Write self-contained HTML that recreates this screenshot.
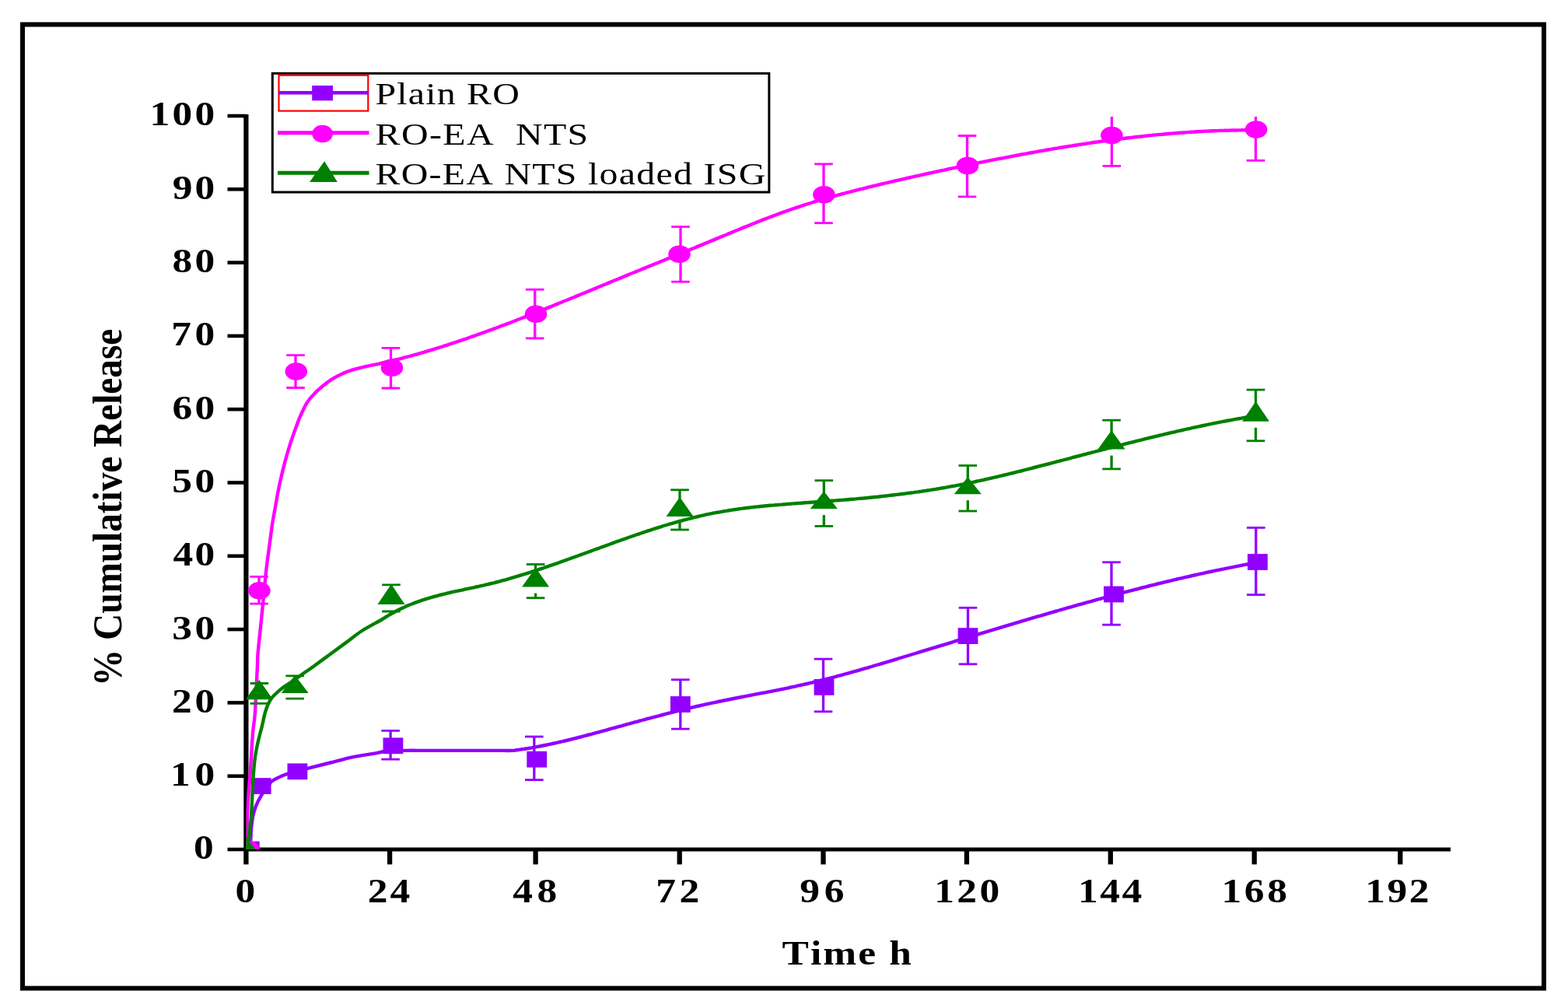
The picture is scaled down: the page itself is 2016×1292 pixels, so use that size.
<!DOCTYPE html><html><head><meta charset="utf-8"><title>Cumulative Release</title><style>html,body{margin:0;padding:0;background:#fff;overflow:hidden;}svg{display:block;}text{font-family:"Liberation Serif","Times New Roman",serif;}</style></head><body>
<svg width="2016" height="1292" viewBox="0 0 2016 1292">
<rect x="0" y="0" width="2016" height="1292" fill="#fff"/>
<rect x="29" y="31.5" width="1956" height="1239" fill="none" stroke="#000" stroke-width="6"/>
<defs><clipPath id="pa"><rect x="316.5" y="149.8" width="1560" height="942.2"/></clipPath></defs>
<g stroke="#000" fill="none" stroke-linecap="butt">
<line x1="316.4" y1="147" x2="316.4" y2="1094.5" stroke-width="6.2"/>
<line x1="313.3" y1="1092" x2="1865" y2="1092" stroke-width="4.8"/>
<line x1="292.5" y1="1092.0" x2="316" y2="1092.0" stroke-width="4.6"/>
<line x1="292.5" y1="997.7" x2="316" y2="997.7" stroke-width="4.6"/>
<line x1="292.5" y1="903.4" x2="316" y2="903.4" stroke-width="4.6"/>
<line x1="292.5" y1="809.1" x2="316" y2="809.1" stroke-width="4.6"/>
<line x1="292.5" y1="714.8" x2="316" y2="714.8" stroke-width="4.6"/>
<line x1="292.5" y1="620.5" x2="316" y2="620.5" stroke-width="4.6"/>
<line x1="292.5" y1="526.2" x2="316" y2="526.2" stroke-width="4.6"/>
<line x1="292.5" y1="431.9" x2="316" y2="431.9" stroke-width="4.6"/>
<line x1="292.5" y1="337.6" x2="316" y2="337.6" stroke-width="4.6"/>
<line x1="292.5" y1="243.3" x2="316" y2="243.3" stroke-width="4.6"/>
<line x1="292.5" y1="149.0" x2="316" y2="149.0" stroke-width="4.6"/>
<line x1="316.4" y1="1092" x2="316.4" y2="1111.3" stroke-width="6.3"/>
<line x1="501.1" y1="1092" x2="501.1" y2="1111.3" stroke-width="6.3"/>
<line x1="688.6" y1="1092" x2="688.6" y2="1111.3" stroke-width="6.3"/>
<line x1="873.7" y1="1092" x2="873.7" y2="1111.3" stroke-width="6.3"/>
<line x1="1058.5" y1="1092" x2="1058.5" y2="1111.3" stroke-width="6.3"/>
<line x1="1242.9" y1="1092" x2="1242.9" y2="1111.3" stroke-width="6.3"/>
<line x1="1427.8" y1="1092" x2="1427.8" y2="1111.3" stroke-width="6.3"/>
<line x1="1612.7" y1="1092" x2="1612.7" y2="1111.3" stroke-width="6.3"/>
<line x1="1800.3" y1="1092" x2="1800.3" y2="1111.3" stroke-width="6.3"/>
</g>
<g font-weight="bold" fill="#000">
<text transform="scale(1.1800,1)" x="211.05" y="1104.5" font-size="43.6" xml:space="preserve">0</text>
<text transform="scale(1.1800,1)" x="185.66 212.32" y="1010.2" font-size="43.6" xml:space="preserve">10</text>
<text transform="scale(1.1800,1)" x="187.32 212.32" y="915.9" font-size="43.6" xml:space="preserve">20</text>
<text transform="scale(1.1800,1)" x="187.51 212.32" y="821.6" font-size="43.6" xml:space="preserve">30</text>
<text transform="scale(1.1800,1)" x="188.56 212.32" y="727.3" font-size="43.6" xml:space="preserve">40</text>
<text transform="scale(1.1800,1)" x="187.41 212.32" y="633.0" font-size="43.6" xml:space="preserve">50</text>
<text transform="scale(1.1800,1)" x="187.66 212.32" y="538.7" font-size="43.6" xml:space="preserve">60</text>
<text transform="scale(1.1800,1)" x="186.66 212.32" y="444.4" font-size="43.6" xml:space="preserve">70</text>
<text transform="scale(1.1800,1)" x="187.70 212.32" y="350.1" font-size="43.6" xml:space="preserve">80</text>
<text transform="scale(1.1800,1)" x="187.96 212.32" y="255.8" font-size="43.6" xml:space="preserve">90</text>
<text transform="scale(1.1800,1)" x="163.20 187.76 212.32" y="161.5" font-size="43.6" xml:space="preserve">100</text>
<text transform="scale(1.1800,1)" x="256.30" y="1160.3" font-size="43.6" xml:space="preserve">0</text>
<text transform="scale(1.1800,1)" x="400.71 425.03" y="1160.3" font-size="43.6" xml:space="preserve">24</text>
<text transform="scale(1.1800,1)" x="558.73 585.07" y="1160.3" font-size="43.6" xml:space="preserve">48</text>
<text transform="scale(1.1800,1)" x="714.71 740.24" y="1160.3" font-size="43.6" xml:space="preserve">72</text>
<text transform="scale(1.1800,1)" x="871.35 898.04" y="1160.3" font-size="43.6" xml:space="preserve">96</text>
<text transform="scale(1.1800,1)" x="1018.03 1042.68 1067.32" y="1160.3" font-size="43.6" xml:space="preserve">120</text>
<text transform="scale(1.1800,1)" x="1174.64 1198.56 1222.48" y="1160.3" font-size="43.6" xml:space="preserve">144</text>
<text transform="scale(1.1800,1)" x="1331.00 1355.83 1380.66" y="1160.3" font-size="43.6" xml:space="preserve">168</text>
<text transform="scale(1.1800,1)" x="1487.61 1511.47 1535.33" y="1160.3" font-size="43.6" xml:space="preserve">192</text>
<text transform="scale(1.1800,1)" x="852.20 883.04 896.92 935.01 956.12 968.78" y="1240.1" font-size="43.6" xml:space="preserve">Time h</text>
<text transform="translate(155.5,652.4) rotate(-90) scale(1,1.2)" x="0" y="0" font-size="43.6" text-anchor="middle" textLength="459.3" lengthAdjust="spacingAndGlyphs">% Cumulative Release</text>
</g>
<g clip-path="url(#pa)">
<path d="M316.5,1092.0 C317.4,1090.4 320.7,1086.8 321.8,1082.4 C322.9,1078.0 322.4,1071.1 323.0,1065.4 C323.6,1059.7 324.4,1053.2 325.4,1048.3 C326.4,1043.4 327.5,1040.2 329.1,1036.1 C330.7,1032.0 333.1,1027.5 335.2,1023.9 C337.3,1020.3 339.1,1017.7 341.5,1014.5 C343.9,1011.3 346.7,1007.0 349.4,1004.5 C352.1,1002.0 354.7,1001.2 357.5,999.8 C360.3,998.4 362.1,997.4 366.4,996.0 C370.6,994.6 377.4,993.1 383.0,991.5 C388.6,989.9 393.3,988.4 400.3,986.6 C407.3,984.8 416.0,982.7 424.8,980.5 C433.6,978.3 443.7,975.4 453.1,973.4 C462.5,971.4 474.4,969.8 481.4,968.6 C488.4,967.4 488.4,966.6 495.0,966.0 C501.6,965.4 512.7,965.1 521.0,964.9 C529.3,964.7 536.8,964.9 545.0,964.9 C553.2,964.9 561.7,964.9 570.0,964.9 C578.3,964.9 586.7,964.9 595.0,964.9 C603.3,964.9 612.5,964.9 620.0,964.9 C627.5,964.9 633.6,964.9 640.0,964.9 C646.4,964.9 654.7,965.0 658.6,964.9 C662.5,964.8 661.9,964.5 663.6,964.3 C665.3,964.1 666.9,963.8 668.6,963.6 C670.3,963.4 671.9,963.1 673.6,962.9 C675.3,962.6 676.9,962.4 678.6,962.1 C680.3,961.8 681.9,961.6 683.6,961.3 C685.3,961.0 686.9,960.7 688.6,960.4 C690.3,960.1 691.9,959.8 693.6,959.5 C695.3,959.1 696.9,958.8 698.6,958.5 C700.3,958.2 701.9,957.8 703.6,957.5 C705.3,957.1 706.9,956.8 708.6,956.4 C710.3,956.1 711.9,955.7 713.6,955.3 C715.3,955.0 716.9,954.6 718.6,954.2 C720.3,953.8 721.9,953.4 723.6,953.1 C725.3,952.7 726.9,952.3 728.6,951.9 C730.3,951.5 731.9,951.1 733.6,950.6 C735.3,950.2 736.9,949.8 738.6,949.4 C740.3,949.0 741.9,948.6 743.6,948.1 C745.3,947.7 746.9,947.3 748.6,946.8 C750.3,946.4 751.9,946.0 753.6,945.5 C755.3,945.1 756.9,944.7 758.6,944.2 C760.3,943.8 761.9,943.3 763.6,942.9 C765.3,942.4 766.9,942.0 768.6,941.5 C770.3,941.1 771.9,940.6 773.6,940.2 C775.3,939.7 776.9,939.2 778.6,938.8 C780.3,938.3 781.9,937.9 783.6,937.4 C785.3,936.9 786.9,936.5 788.6,936.0 C790.3,935.6 791.9,935.1 793.6,934.6 C795.3,934.2 796.9,933.7 798.6,933.3 C800.3,932.8 801.9,932.3 803.6,931.9 C805.3,931.4 806.9,931.0 808.6,930.5 C810.3,930.0 811.9,929.6 813.6,929.1 C815.3,928.7 816.9,928.2 818.6,927.8 C820.3,927.3 821.9,926.9 823.6,926.4 C825.3,926.0 826.9,925.5 828.6,925.1 C830.3,924.6 831.9,924.2 833.6,923.7 C835.3,923.3 836.9,922.8 838.6,922.4 C840.3,921.9 841.9,921.5 843.6,921.1 C845.3,920.6 846.9,920.2 848.6,919.8 C850.3,919.3 851.9,918.9 853.6,918.5 C855.3,918.0 856.9,917.6 858.6,917.2 C860.3,916.7 861.9,916.3 863.6,915.9 C865.3,915.5 866.9,915.1 868.6,914.6 C870.3,914.2 871.9,913.8 873.6,913.4 C875.3,913.0 876.9,912.6 878.6,912.2 C880.3,911.8 881.9,911.4 883.6,911.0 C885.3,910.6 886.9,910.2 888.6,909.8 C890.3,909.4 891.9,909.0 893.6,908.6 C895.3,908.2 896.9,907.8 898.6,907.5 C900.3,907.1 901.9,906.7 903.6,906.3 C905.3,906.0 906.9,905.6 908.6,905.2 C910.3,904.9 911.9,904.5 913.6,904.1 C915.3,903.8 916.9,903.4 918.6,903.1 C920.3,902.7 921.9,902.4 923.6,902.0 C925.3,901.7 926.9,901.3 928.6,901.0 C930.3,900.6 931.9,900.3 933.6,900.0 C935.3,899.6 936.9,899.3 938.6,899.0 C940.3,898.6 941.9,898.3 943.6,898.0 C945.3,897.7 946.9,897.3 948.6,897.0 C950.3,896.7 951.9,896.4 953.6,896.0 C955.3,895.7 956.9,895.4 958.6,895.1 C960.3,894.8 961.9,894.4 963.6,894.1 C965.3,893.8 966.9,893.5 968.6,893.2 C970.3,892.8 971.9,892.5 973.6,892.2 C975.3,891.9 976.9,891.6 978.6,891.2 C980.3,890.9 981.9,890.6 983.6,890.3 C985.3,889.9 986.9,889.6 988.6,889.3 C990.3,889.0 991.9,888.6 993.6,888.3 C995.3,888.0 996.9,887.7 998.6,887.3 C1000.3,887.0 1001.9,886.7 1003.6,886.3 C1005.3,886.0 1006.9,885.6 1008.6,885.3 C1010.3,885.0 1011.9,884.6 1013.6,884.3 C1015.3,883.9 1016.9,883.6 1018.6,883.2 C1020.3,882.9 1021.9,882.5 1023.6,882.1 C1025.3,881.8 1026.9,881.4 1028.6,881.0 C1030.3,880.7 1031.9,880.3 1033.6,879.9 C1035.3,879.6 1036.9,879.2 1038.6,878.8 C1040.3,878.4 1041.9,878.0 1043.6,877.6 C1045.3,877.2 1046.9,876.8 1048.6,876.4 C1050.3,876.0 1051.9,875.6 1053.6,875.2 C1055.3,874.8 1056.9,874.4 1058.6,873.9 C1060.3,873.5 1061.9,873.1 1063.6,872.7 C1065.3,872.2 1066.9,871.8 1068.6,871.4 C1070.3,870.9 1071.9,870.5 1073.6,870.1 C1075.3,869.6 1076.9,869.2 1078.6,868.7 C1080.3,868.3 1081.9,867.8 1083.6,867.4 C1085.3,866.9 1086.9,866.5 1088.6,866.0 C1090.3,865.6 1091.9,865.1 1093.6,864.6 C1095.3,864.2 1096.9,863.7 1098.6,863.2 C1100.3,862.8 1101.9,862.3 1103.6,861.8 C1105.3,861.3 1106.9,860.9 1108.6,860.4 C1110.3,859.9 1111.9,859.4 1113.6,858.9 C1115.3,858.5 1116.9,858.0 1118.6,857.5 C1120.3,857.0 1121.9,856.5 1123.6,856.0 C1125.3,855.5 1126.9,855.0 1128.6,854.5 C1130.3,854.0 1131.9,853.6 1133.6,853.1 C1135.3,852.6 1136.9,852.1 1138.6,851.6 C1140.3,851.1 1141.9,850.6 1143.6,850.1 C1145.3,849.6 1146.9,849.1 1148.6,848.6 C1150.3,848.1 1151.9,847.6 1153.6,847.1 C1155.3,846.5 1156.9,846.0 1158.6,845.5 C1160.3,845.0 1161.9,844.5 1163.6,844.0 C1165.3,843.5 1166.9,843.0 1168.6,842.5 C1170.3,842.0 1171.9,841.5 1173.6,841.0 C1175.3,840.5 1176.9,840.0 1178.6,839.5 C1180.3,839.0 1181.9,838.5 1183.6,837.9 C1185.3,837.4 1186.9,836.9 1188.6,836.4 C1190.3,835.9 1191.9,835.4 1193.6,834.9 C1195.3,834.4 1196.9,833.9 1198.6,833.4 C1200.3,832.9 1201.9,832.4 1203.6,831.9 C1205.3,831.3 1206.9,830.8 1208.6,830.3 C1210.3,829.8 1211.9,829.3 1213.6,828.8 C1215.3,828.3 1216.9,827.8 1218.6,827.3 C1220.3,826.8 1221.9,826.3 1223.6,825.8 C1225.3,825.3 1226.9,824.7 1228.6,824.2 C1230.3,823.7 1231.9,823.2 1233.6,822.7 C1235.3,822.2 1236.9,821.7 1238.6,821.2 C1240.3,820.7 1241.9,820.2 1243.6,819.7 C1245.3,819.2 1246.9,818.7 1248.6,818.2 C1250.3,817.6 1251.9,817.1 1253.6,816.6 C1255.3,816.1 1256.9,815.6 1258.6,815.1 C1260.3,814.6 1261.9,814.1 1263.6,813.6 C1265.3,813.1 1266.9,812.6 1268.6,812.1 C1270.3,811.6 1271.9,811.1 1273.6,810.6 C1275.3,810.1 1276.9,809.6 1278.6,809.1 C1280.3,808.6 1281.9,808.1 1283.6,807.6 C1285.3,807.1 1286.9,806.6 1288.6,806.1 C1290.3,805.6 1291.9,805.1 1293.6,804.6 C1295.3,804.1 1296.9,803.6 1298.6,803.1 C1300.3,802.6 1301.9,802.1 1303.6,801.6 C1305.3,801.1 1306.9,800.6 1308.6,800.1 C1310.3,799.6 1311.9,799.1 1313.6,798.6 C1315.3,798.1 1316.9,797.6 1318.6,797.1 C1320.3,796.6 1321.9,796.2 1323.6,795.7 C1325.3,795.2 1326.9,794.7 1328.6,794.2 C1330.3,793.7 1331.9,793.2 1333.6,792.7 C1335.3,792.2 1336.9,791.7 1338.6,791.3 C1340.3,790.8 1341.9,790.3 1343.6,789.8 C1345.3,789.3 1346.9,788.8 1348.6,788.4 C1350.3,787.9 1351.9,787.4 1353.6,786.9 C1355.3,786.4 1356.9,785.9 1358.6,785.5 C1360.3,785.0 1361.9,784.5 1363.6,784.0 C1365.3,783.6 1366.9,783.1 1368.6,782.6 C1370.3,782.1 1371.9,781.6 1373.6,781.2 C1375.3,780.7 1376.9,780.2 1378.6,779.8 C1380.3,779.3 1381.9,778.8 1383.6,778.3 C1385.3,777.9 1386.9,777.4 1388.6,776.9 C1390.3,776.5 1391.9,776.0 1393.6,775.5 C1395.3,775.1 1396.9,774.6 1398.6,774.2 C1400.3,773.7 1401.9,773.2 1403.6,772.8 C1405.3,772.3 1406.9,771.8 1408.6,771.4 C1410.3,770.9 1411.9,770.5 1413.6,770.0 C1415.3,769.6 1416.9,769.1 1418.6,768.7 C1420.3,768.2 1421.9,767.8 1423.6,767.3 C1425.3,766.9 1426.9,766.4 1428.6,766.0 C1430.3,765.5 1431.9,765.1 1433.6,764.6 C1435.3,764.2 1436.9,763.7 1438.6,763.3 C1440.3,762.9 1441.9,762.4 1443.6,762.0 C1445.3,761.5 1446.9,761.1 1448.6,760.7 C1450.3,760.2 1451.9,759.8 1453.6,759.4 C1455.3,758.9 1456.9,758.5 1458.6,758.1 C1460.3,757.6 1461.9,757.2 1463.6,756.8 C1465.3,756.4 1466.9,755.9 1468.6,755.5 C1470.3,755.1 1471.9,754.7 1473.6,754.3 C1475.3,753.8 1476.9,753.4 1478.6,753.0 C1480.3,752.6 1481.9,752.2 1483.6,751.8 C1485.3,751.4 1486.9,750.9 1488.6,750.5 C1490.3,750.1 1491.9,749.7 1493.6,749.3 C1495.3,748.9 1496.9,748.5 1498.6,748.1 C1500.3,747.7 1501.9,747.3 1503.6,746.9 C1505.3,746.5 1506.9,746.1 1508.6,745.7 C1510.3,745.3 1511.9,744.9 1513.6,744.5 C1515.3,744.1 1516.9,743.8 1518.6,743.4 C1520.3,743.0 1521.9,742.6 1523.6,742.2 C1525.3,741.8 1526.9,741.5 1528.6,741.1 C1530.3,740.7 1531.9,740.3 1533.6,739.9 C1535.3,739.6 1536.9,739.2 1538.6,738.8 C1540.3,738.5 1541.9,738.1 1543.6,737.7 C1545.3,737.4 1546.9,737.0 1548.6,736.6 C1550.3,736.3 1551.9,735.9 1553.6,735.5 C1555.3,735.2 1556.9,734.8 1558.6,734.5 C1560.3,734.1 1561.9,733.8 1563.6,733.4 C1565.3,733.1 1566.9,732.7 1568.6,732.4 C1570.3,732.0 1571.9,731.7 1573.6,731.4 C1575.3,731.0 1576.9,730.7 1578.6,730.4 C1580.3,730.0 1581.9,729.7 1583.6,729.4 C1585.3,729.0 1586.9,728.7 1588.6,728.4 C1590.3,728.0 1591.9,727.7 1593.6,727.4 C1595.3,727.1 1596.9,726.8 1598.6,726.4 C1600.3,726.1 1601.9,725.8 1603.6,725.5 C1605.3,725.2 1606.9,724.9 1608.6,724.6 C1610.3,724.3 1612.2,723.9 1613.6,723.7 C1615.0,723.4 1616.4,723.2 1617.0,723.1" fill="none" stroke="#9200ff" stroke-width="4.4" stroke-linejoin="round"/>
<g stroke="#9200ff" stroke-width="3.3" fill="none">
<line x1="502.1" y1="939.4" x2="502.1" y2="976.2"/><line x1="490.3" y1="939.4" x2="513.9" y2="939.4" stroke-width="2.8"/><line x1="490.3" y1="976.2" x2="513.9" y2="976.2" stroke-width="2.8"/>
<line x1="686.8" y1="947.0" x2="686.8" y2="1002.6"/><line x1="675.0" y1="947.0" x2="698.6" y2="947.0" stroke-width="2.8"/><line x1="675.0" y1="1002.6" x2="698.6" y2="1002.6" stroke-width="2.8"/>
<line x1="874.8" y1="873.8" x2="874.8" y2="937.1"/><line x1="863.0" y1="873.8" x2="886.6" y2="873.8" stroke-width="2.8"/><line x1="863.0" y1="937.1" x2="886.6" y2="937.1" stroke-width="2.8"/>
<line x1="1058.5" y1="847.2" x2="1058.5" y2="914.8"/><line x1="1046.7" y1="847.2" x2="1070.3" y2="847.2" stroke-width="2.8"/><line x1="1046.7" y1="914.8" x2="1070.3" y2="914.8" stroke-width="2.8"/>
<line x1="1244.5" y1="781.3" x2="1244.5" y2="853.8"/><line x1="1232.7" y1="781.3" x2="1256.3" y2="781.3" stroke-width="2.8"/><line x1="1232.7" y1="853.8" x2="1256.3" y2="853.8" stroke-width="2.8"/>
<line x1="1429.0" y1="722.8" x2="1429.0" y2="803.2"/><line x1="1417.2" y1="722.8" x2="1440.8" y2="722.8" stroke-width="2.8"/><line x1="1417.2" y1="803.2" x2="1440.8" y2="803.2" stroke-width="2.8"/>
<line x1="1614.8" y1="678.4" x2="1614.8" y2="764.6"/><line x1="1603.0" y1="678.4" x2="1626.6" y2="678.4" stroke-width="2.8"/><line x1="1603.0" y1="764.6" x2="1626.6" y2="764.6" stroke-width="2.8"/>
</g>
<g fill="#9200ff">
<rect x="322.8" y="1000.1" width="25.8" height="20.8"/>
<rect x="369.5" y="981.4" width="25.8" height="20.8"/>
<rect x="492.5" y="948.4" width="25.8" height="20.8"/>
<rect x="677.3" y="965.8" width="25.8" height="20.8"/>
<rect x="861.9" y="895.1" width="25.8" height="20.8"/>
<rect x="1046.6" y="873.0" width="25.8" height="20.8"/>
<rect x="1231.6" y="807.2" width="25.8" height="20.8"/>
<rect x="1419.1" y="753.6" width="25.8" height="20.8"/>
<rect x="1604.0" y="712.1" width="25.8" height="20.8"/>
<rect x="307.9" y="1081.6" width="25.8" height="20.8"/>
</g>
<path d="M316.5,1092.0 C316.6,1086.8 316.9,1071.8 317.4,1060.5 C317.9,1049.2 318.6,1035.0 319.3,1023.9 C320.0,1012.8 321.0,1003.8 321.7,994.0 C322.4,984.2 322.9,974.2 323.5,965.0 C324.1,955.8 324.6,947.3 325.3,939.0 C326.1,930.7 327.1,928.7 328.0,915.0 C328.9,901.3 330.3,869.3 330.9,857.0 C331.5,844.7 330.8,849.8 331.5,841.0 C332.2,832.2 334.0,816.0 335.2,804.4 C336.4,792.8 337.6,780.1 338.5,771.2 C339.4,762.3 339.8,757.8 340.5,751.1 C341.2,744.4 341.7,737.7 342.5,731.0 C343.3,724.3 344.2,717.6 345.1,710.9 C346.0,704.2 346.9,697.5 347.8,690.8 C348.7,684.1 349.5,677.4 350.6,670.7 C351.7,664.0 353.0,657.3 354.2,650.6 C355.4,643.9 356.5,637.2 357.8,630.5 C359.1,623.8 360.6,617.1 362.2,610.4 C363.8,603.7 365.4,597.0 367.3,590.3 C369.2,583.6 371.1,576.9 373.3,570.2 C375.5,563.5 378.2,555.9 380.3,550.1 C382.4,544.3 383.6,540.7 386.0,535.2 C388.4,529.8 391.8,522.4 394.9,517.4 C398.0,512.4 401.5,509.0 404.8,505.5 C408.1,502.0 411.1,499.5 414.7,496.5 C418.3,493.5 422.5,490.2 426.6,487.6 C430.7,485.0 434.9,482.8 439.5,480.7 C444.1,478.6 449.4,476.8 454.4,475.2 C459.4,473.6 464.3,472.4 469.3,471.3 C474.3,470.2 480.1,469.2 484.2,468.3 C488.3,467.4 489.2,467.0 494.1,465.8 C499.1,464.6 509.8,462.3 513.9,461.3 C518.0,460.3 517.2,460.4 518.9,460.0 C520.6,459.5 522.2,459.1 523.9,458.7 C525.6,458.2 527.2,457.8 528.9,457.3 C530.6,456.8 532.2,456.4 533.9,455.9 C535.6,455.5 537.2,455.0 538.9,454.5 C540.6,454.0 542.2,453.5 543.9,453.1 C545.6,452.6 547.2,452.1 548.9,451.6 C550.6,451.1 552.2,450.6 553.9,450.1 C555.6,449.6 557.2,449.1 558.9,448.6 C560.6,448.1 562.2,447.6 563.9,447.0 C565.6,446.5 567.2,446.0 568.9,445.5 C570.6,444.9 572.2,444.4 573.9,443.9 C575.6,443.3 577.2,442.8 578.9,442.2 C580.6,441.7 582.2,441.2 583.9,440.6 C585.6,440.1 587.2,439.5 588.9,438.9 C590.6,438.4 592.2,437.8 593.9,437.3 C595.6,436.7 597.2,436.1 598.9,435.6 C600.6,435.0 602.2,434.4 603.9,433.8 C605.6,433.2 607.2,432.7 608.9,432.1 C610.6,431.5 612.2,430.9 613.9,430.3 C615.6,429.7 617.2,429.1 618.9,428.5 C620.6,427.9 622.2,427.3 623.9,426.7 C625.6,426.1 627.2,425.5 628.9,424.9 C630.6,424.3 632.2,423.7 633.9,423.1 C635.6,422.5 637.2,421.8 638.9,421.2 C640.6,420.6 642.2,420.0 643.9,419.3 C645.6,418.7 647.2,418.1 648.9,417.5 C650.6,416.8 652.2,416.2 653.9,415.6 C655.6,414.9 657.2,414.3 658.9,413.7 C660.6,413.0 662.2,412.4 663.9,411.7 C665.6,411.1 667.2,410.4 668.9,409.8 C670.6,409.1 672.2,408.5 673.9,407.8 C675.6,407.2 677.2,406.5 678.9,405.9 C680.6,405.2 682.2,404.6 683.9,403.9 C685.6,403.2 687.2,402.6 688.9,401.9 C690.6,401.3 692.2,400.6 693.9,399.9 C695.6,399.3 697.2,398.6 698.9,397.9 C700.6,397.3 702.2,396.6 703.9,395.9 C705.6,395.2 707.2,394.6 708.9,393.9 C710.6,393.2 712.2,392.5 713.9,391.9 C715.6,391.2 717.2,390.5 718.9,389.8 C720.6,389.2 722.2,388.5 723.9,387.8 C725.6,387.1 727.2,386.4 728.9,385.8 C730.6,385.1 732.2,384.4 733.9,383.7 C735.6,383.0 737.2,382.3 738.9,381.7 C740.6,381.0 742.2,380.3 743.9,379.6 C745.6,378.9 747.2,378.2 748.9,377.5 C750.6,376.9 752.2,376.2 753.9,375.5 C755.6,374.8 757.2,374.1 758.9,373.4 C760.6,372.7 762.2,372.0 763.9,371.4 C765.6,370.7 767.2,370.0 768.9,369.3 C770.6,368.6 772.2,367.9 773.9,367.2 C775.6,366.5 777.2,365.8 778.9,365.2 C780.6,364.5 782.2,363.8 783.9,363.1 C785.6,362.4 787.2,361.7 788.9,361.0 C790.6,360.3 792.2,359.7 793.9,359.0 C795.6,358.3 797.2,357.6 798.9,356.9 C800.6,356.2 802.2,355.5 803.9,354.9 C805.6,354.2 807.2,353.5 808.9,352.8 C810.6,352.1 812.2,351.4 813.9,350.8 C815.6,350.1 817.2,349.4 818.9,348.7 C820.6,348.0 822.2,347.4 823.9,346.7 C825.6,346.0 827.2,345.3 828.9,344.6 C830.6,344.0 832.2,343.3 833.9,342.6 C835.6,341.9 837.2,341.2 838.9,340.6 C840.6,339.9 842.2,339.2 843.9,338.5 C845.6,337.9 847.2,337.2 848.9,336.5 C850.6,335.8 852.2,335.2 853.9,334.5 C855.6,333.8 857.2,333.1 858.9,332.4 C860.6,331.8 862.2,331.1 863.9,330.4 C865.6,329.7 867.2,329.1 868.9,328.4 C870.6,327.7 872.2,327.0 873.9,326.3 C875.6,325.7 877.2,325.0 878.9,324.3 C880.6,323.6 882.2,322.9 883.9,322.3 C885.6,321.6 887.2,320.9 888.9,320.2 C890.6,319.5 892.2,318.9 893.9,318.2 C895.6,317.5 897.2,316.8 898.9,316.1 C900.6,315.4 902.2,314.8 903.9,314.1 C905.6,313.4 907.2,312.7 908.9,312.0 C910.6,311.3 912.2,310.6 913.9,309.9 C915.6,309.3 917.2,308.6 918.9,307.9 C920.6,307.2 922.2,306.5 923.9,305.8 C925.6,305.1 927.2,304.4 928.9,303.7 C930.6,303.0 932.2,302.3 933.9,301.7 C935.6,301.0 937.2,300.3 938.9,299.6 C940.6,298.9 942.2,298.2 943.9,297.5 C945.6,296.8 947.2,296.2 948.9,295.5 C950.6,294.8 952.2,294.1 953.9,293.4 C955.6,292.7 957.2,292.1 958.9,291.4 C960.6,290.7 962.2,290.0 963.9,289.4 C965.6,288.7 967.2,288.0 968.9,287.4 C970.6,286.7 972.2,286.0 973.9,285.4 C975.6,284.7 977.2,284.0 978.9,283.4 C980.6,282.7 982.2,282.1 983.9,281.4 C985.6,280.8 987.2,280.2 988.9,279.5 C990.6,278.9 992.2,278.3 993.9,277.6 C995.6,277.0 997.2,276.4 998.9,275.8 C1000.6,275.1 1002.2,274.5 1003.9,273.9 C1005.6,273.3 1007.2,272.7 1008.9,272.1 C1010.6,271.5 1012.2,270.9 1013.9,270.4 C1015.6,269.8 1017.2,269.2 1018.9,268.6 C1020.6,268.0 1022.2,267.5 1023.9,266.9 C1025.6,266.4 1027.2,265.8 1028.9,265.3 C1030.6,264.7 1032.2,264.2 1033.9,263.6 C1035.6,263.1 1037.2,262.6 1038.9,262.0 C1040.6,261.5 1042.2,261.0 1043.9,260.5 C1045.6,260.0 1047.2,259.5 1048.9,258.9 C1050.6,258.4 1052.2,257.9 1053.9,257.4 C1055.6,257.0 1057.2,256.5 1058.9,256.0 C1060.6,255.5 1062.2,255.0 1063.9,254.5 C1065.6,254.1 1067.2,253.6 1068.9,253.1 C1070.6,252.6 1072.2,252.2 1073.9,251.7 C1075.6,251.3 1077.2,250.8 1078.9,250.3 C1080.6,249.9 1082.2,249.4 1083.9,249.0 C1085.6,248.6 1087.2,248.1 1088.9,247.7 C1090.6,247.2 1092.2,246.8 1093.9,246.4 C1095.6,245.9 1097.2,245.5 1098.9,245.1 C1100.6,244.7 1102.2,244.2 1103.9,243.8 C1105.6,243.4 1107.2,243.0 1108.9,242.6 C1110.6,242.1 1112.2,241.7 1113.9,241.3 C1115.6,240.9 1117.2,240.5 1118.9,240.1 C1120.6,239.7 1122.2,239.3 1123.9,238.9 C1125.6,238.5 1127.2,238.1 1128.9,237.7 C1130.6,237.3 1132.2,236.9 1133.9,236.5 C1135.6,236.1 1137.2,235.7 1138.9,235.4 C1140.6,235.0 1142.2,234.6 1143.9,234.2 C1145.6,233.8 1147.2,233.4 1148.9,233.0 C1150.6,232.6 1152.2,232.3 1153.9,231.9 C1155.6,231.5 1157.2,231.1 1158.9,230.7 C1160.6,230.4 1162.2,230.0 1163.9,229.6 C1165.6,229.2 1167.2,228.8 1168.9,228.5 C1170.6,228.1 1172.2,227.7 1173.9,227.3 C1175.6,227.0 1177.2,226.6 1178.9,226.2 C1180.6,225.9 1182.2,225.5 1183.9,225.1 C1185.6,224.7 1187.2,224.4 1188.9,224.0 C1190.6,223.6 1192.2,223.3 1193.9,222.9 C1195.6,222.5 1197.2,222.2 1198.9,221.8 C1200.6,221.5 1202.2,221.1 1203.9,220.7 C1205.6,220.4 1207.2,220.0 1208.9,219.6 C1210.6,219.3 1212.2,218.9 1213.9,218.6 C1215.6,218.2 1217.2,217.9 1218.9,217.5 C1220.6,217.1 1222.2,216.8 1223.9,216.4 C1225.6,216.1 1227.2,215.7 1228.9,215.4 C1230.6,215.0 1232.2,214.7 1233.9,214.3 C1235.6,214.0 1237.2,213.6 1238.9,213.3 C1240.6,212.9 1242.2,212.6 1243.9,212.3 C1245.6,211.9 1247.2,211.6 1248.9,211.2 C1250.6,210.9 1252.2,210.6 1253.9,210.2 C1255.6,209.9 1257.2,209.5 1258.9,209.2 C1260.6,208.9 1262.2,208.5 1263.9,208.2 C1265.6,207.9 1267.2,207.5 1268.9,207.2 C1270.6,206.9 1272.2,206.5 1273.9,206.2 C1275.6,205.9 1277.2,205.5 1278.9,205.2 C1280.6,204.9 1282.2,204.6 1283.9,204.2 C1285.6,203.9 1287.2,203.6 1288.9,203.3 C1290.6,202.9 1292.2,202.6 1293.9,202.3 C1295.6,202.0 1297.2,201.7 1298.9,201.3 C1300.6,201.0 1302.2,200.7 1303.9,200.4 C1305.6,200.1 1307.2,199.8 1308.9,199.5 C1310.6,199.1 1312.2,198.8 1313.9,198.5 C1315.6,198.2 1317.2,197.9 1318.9,197.6 C1320.6,197.3 1322.2,197.0 1323.9,196.7 C1325.6,196.4 1327.2,196.1 1328.9,195.8 C1330.6,195.5 1332.2,195.2 1333.9,194.9 C1335.6,194.6 1337.2,194.3 1338.9,194.0 C1340.6,193.7 1342.2,193.4 1343.9,193.1 C1345.6,192.8 1347.2,192.5 1348.9,192.3 C1350.6,192.0 1352.2,191.7 1353.9,191.4 C1355.6,191.1 1357.2,190.8 1358.9,190.6 C1360.6,190.3 1362.2,190.0 1363.9,189.7 C1365.6,189.5 1367.2,189.2 1368.9,188.9 C1370.6,188.6 1372.2,188.4 1373.9,188.1 C1375.6,187.8 1377.2,187.6 1378.9,187.3 C1380.6,187.0 1382.2,186.8 1383.9,186.5 C1385.6,186.2 1387.2,186.0 1388.9,185.7 C1390.6,185.5 1392.2,185.2 1393.9,185.0 C1395.6,184.7 1397.2,184.5 1398.9,184.2 C1400.6,184.0 1402.2,183.7 1403.9,183.5 C1405.6,183.2 1407.2,183.0 1408.9,182.8 C1410.6,182.5 1412.2,182.3 1413.9,182.0 C1415.6,181.8 1417.2,181.6 1418.9,181.3 C1420.6,181.1 1422.2,180.9 1423.9,180.7 C1425.6,180.4 1427.2,180.2 1428.9,180.0 C1430.6,179.8 1432.2,179.6 1433.9,179.3 C1435.6,179.1 1437.2,178.9 1438.9,178.7 C1440.6,178.5 1442.2,178.3 1443.9,178.1 C1445.6,177.9 1447.2,177.7 1448.9,177.5 C1450.6,177.3 1452.2,177.1 1453.9,176.9 C1455.6,176.7 1457.2,176.5 1458.9,176.3 C1460.6,176.1 1462.2,175.9 1463.9,175.7 C1465.6,175.5 1467.2,175.3 1468.9,175.2 C1470.6,175.0 1472.2,174.8 1473.9,174.6 C1475.6,174.5 1477.2,174.3 1478.9,174.1 C1480.6,174.0 1482.2,173.8 1483.9,173.6 C1485.6,173.5 1487.2,173.3 1488.9,173.1 C1490.6,173.0 1492.2,172.8 1493.9,172.7 C1495.6,172.5 1497.2,172.4 1498.9,172.2 C1500.6,172.1 1502.2,171.9 1503.9,171.8 C1505.6,171.7 1507.2,171.5 1508.9,171.4 C1510.6,171.3 1512.2,171.1 1513.9,171.0 C1515.6,170.9 1517.2,170.7 1518.9,170.6 C1520.6,170.5 1522.2,170.4 1523.9,170.3 C1525.6,170.1 1527.2,170.0 1528.9,169.9 C1530.6,169.8 1532.2,169.7 1533.9,169.6 C1535.6,169.5 1537.2,169.4 1538.9,169.3 C1540.6,169.2 1542.2,169.1 1543.9,169.0 C1545.6,168.9 1547.2,168.9 1548.9,168.8 C1550.6,168.7 1552.2,168.6 1553.9,168.5 C1555.6,168.5 1557.2,168.4 1558.9,168.3 C1560.6,168.2 1562.2,168.2 1563.9,168.1 C1565.6,168.1 1567.2,168.0 1568.9,167.9 C1570.6,167.9 1572.2,167.8 1573.9,167.8 C1575.6,167.7 1577.2,167.7 1578.9,167.7 C1580.6,167.6 1582.2,167.6 1583.9,167.5 C1585.6,167.5 1587.2,167.5 1588.9,167.5 C1590.6,167.4 1592.2,167.4 1593.9,167.4 C1595.6,167.4 1597.2,167.4 1598.9,167.3 C1600.6,167.3 1602.2,167.3 1603.9,167.3 C1605.6,167.3 1607.2,167.3 1608.9,167.3 C1610.6,167.3 1612.9,167.3 1613.9,167.3 C1614.9,167.4 1614.8,167.4 1615.0,167.4" fill="none" stroke="#ff00ff" stroke-width="4.4" stroke-linejoin="round"/>
<g stroke="#ff00ff" stroke-width="3.3" fill="none">
<line x1="333.0" y1="741.4" x2="333.0" y2="776.2"/><line x1="321.2" y1="741.4" x2="344.8" y2="741.4" stroke-width="2.8"/><line x1="321.2" y1="776.2" x2="344.8" y2="776.2" stroke-width="2.8"/>
<line x1="380.0" y1="456.7" x2="380.0" y2="498.5"/><line x1="368.2" y1="456.7" x2="391.8" y2="456.7" stroke-width="2.8"/><line x1="368.2" y1="498.5" x2="391.8" y2="498.5" stroke-width="2.8"/>
<line x1="502.5" y1="447.4" x2="502.5" y2="499.0"/><line x1="490.7" y1="447.4" x2="514.3" y2="447.4" stroke-width="2.8"/><line x1="490.7" y1="499.0" x2="514.3" y2="499.0" stroke-width="2.8"/>
<line x1="687.7" y1="372.2" x2="687.7" y2="434.9"/><line x1="675.9" y1="372.2" x2="699.5" y2="372.2" stroke-width="2.8"/><line x1="675.9" y1="434.9" x2="699.5" y2="434.9" stroke-width="2.8"/>
<line x1="875.0" y1="291.5" x2="875.0" y2="362.2"/><line x1="863.2" y1="291.5" x2="886.8" y2="291.5" stroke-width="2.8"/><line x1="863.2" y1="362.2" x2="886.8" y2="362.2" stroke-width="2.8"/>
<line x1="1059.0" y1="210.9" x2="1059.0" y2="286.7"/><line x1="1047.2" y1="210.9" x2="1070.8" y2="210.9" stroke-width="2.8"/><line x1="1047.2" y1="286.7" x2="1070.8" y2="286.7" stroke-width="2.8"/>
<line x1="1243.5" y1="174.5" x2="1243.5" y2="252.8"/><line x1="1231.7" y1="174.5" x2="1255.3" y2="174.5" stroke-width="2.8"/><line x1="1231.7" y1="252.8" x2="1255.3" y2="252.8" stroke-width="2.8"/>
<line x1="1429.4" y1="149.8" x2="1429.4" y2="213.3"/><line x1="1417.6" y1="213.3" x2="1441.2" y2="213.3" stroke-width="2.8"/>
<line x1="1614.5" y1="149.8" x2="1614.5" y2="206.3"/><line x1="1602.7" y1="206.3" x2="1626.3" y2="206.3" stroke-width="2.8"/>
</g>
<g fill="#ff00ff">
<ellipse cx="333.4" cy="759.3" rx="14.3" ry="11.3"/>
<ellipse cx="380.8" cy="477.6" rx="14.3" ry="11.3"/>
<ellipse cx="504.0" cy="472.7" rx="14.3" ry="11.3"/>
<ellipse cx="689.0" cy="403.7" rx="14.3" ry="11.3"/>
<ellipse cx="873.5" cy="326.7" rx="14.3" ry="11.3"/>
<ellipse cx="1059.4" cy="250.2" rx="14.3" ry="11.3"/>
<ellipse cx="1244.0" cy="213.1" rx="14.3" ry="11.3"/>
<ellipse cx="1429.4" cy="174.0" rx="14.3" ry="11.3"/>
<ellipse cx="1615.1" cy="166.6" rx="14.3" ry="11.3"/>
<ellipse cx="319.5" cy="1092" rx="14.3" ry="11.3"/>
</g>
<path d="M316.5,1092.0 C317.0,1090.0 318.5,1086.2 319.5,1080.0 C320.5,1073.8 321.7,1064.2 322.5,1055.0 C323.3,1045.8 323.8,1034.2 324.3,1025.0 C324.8,1015.8 325.1,1007.8 325.6,1000.0 C326.1,992.2 326.7,984.2 327.4,978.0 C328.1,971.8 328.9,967.6 329.8,962.9 C330.7,958.2 331.5,954.6 332.6,950.0 C333.7,945.4 334.9,941.5 336.4,935.5 C337.9,929.5 339.5,920.2 341.5,914.0 C343.5,907.8 345.2,903.1 348.4,898.5 C351.6,893.9 356.5,889.9 360.9,886.2 C365.3,882.5 370.2,879.8 374.8,876.5 C379.4,873.2 384.1,870.0 388.7,866.7 C393.3,863.5 396.9,861.2 402.7,857.0 C408.5,852.8 416.6,846.8 423.6,841.7 C430.6,836.6 437.6,831.5 444.5,826.4 C451.4,821.3 457.7,815.9 465.3,811.0 C472.9,806.1 485.1,799.9 490.0,797.0 C494.9,794.2 493.3,794.8 495.0,793.8 C496.7,792.8 498.3,791.8 500.0,790.8 C501.7,789.8 503.3,788.9 505.0,788.0 C506.7,787.0 508.3,786.2 510.0,785.3 C511.7,784.4 513.3,783.6 515.0,782.8 C516.7,782.0 518.3,781.2 520.0,780.5 C521.7,779.7 523.3,779.0 525.0,778.3 C526.7,777.6 528.3,776.9 530.0,776.3 C531.7,775.6 533.3,775.0 535.0,774.4 C536.7,773.7 538.3,773.2 540.0,772.6 C541.7,772.0 543.3,771.4 545.0,770.9 C546.7,770.4 548.3,769.8 550.0,769.3 C551.7,768.8 553.3,768.3 555.0,767.8 C556.7,767.4 558.3,766.9 560.0,766.5 C561.7,766.0 563.3,765.6 565.0,765.1 C566.7,764.7 568.3,764.3 570.0,763.9 C571.7,763.5 573.3,763.1 575.0,762.7 C576.7,762.3 578.3,761.9 580.0,761.5 C581.7,761.1 583.3,760.8 585.0,760.4 C586.7,760.0 588.3,759.7 590.0,759.3 C591.7,759.0 593.3,758.6 595.0,758.3 C596.7,757.9 598.3,757.5 600.0,757.2 C601.7,756.8 603.3,756.5 605.0,756.1 C606.7,755.8 608.3,755.4 610.0,755.1 C611.7,754.7 613.3,754.3 615.0,754.0 C616.7,753.6 618.3,753.2 620.0,752.9 C621.7,752.5 623.3,752.1 625.0,751.7 C626.7,751.3 628.3,750.9 630.0,750.5 C631.7,750.1 633.3,749.7 635.0,749.3 C636.7,748.8 638.3,748.4 640.0,748.0 C641.7,747.5 643.3,747.1 645.0,746.6 C646.7,746.2 648.3,745.7 650.0,745.3 C651.7,744.8 653.3,744.3 655.0,743.9 C656.7,743.4 658.3,742.9 660.0,742.4 C661.7,741.9 663.3,741.4 665.0,740.9 C666.7,740.4 668.3,739.9 670.0,739.4 C671.7,738.9 673.3,738.4 675.0,737.9 C676.7,737.4 678.3,736.8 680.0,736.3 C681.7,735.8 683.3,735.2 685.0,734.7 C686.7,734.2 688.3,733.6 690.0,733.1 C691.7,732.5 693.3,732.0 695.0,731.4 C696.7,730.8 698.3,730.3 700.0,729.7 C701.7,729.2 703.3,728.6 705.0,728.0 C706.7,727.5 708.3,726.9 710.0,726.3 C711.7,725.7 713.3,725.1 715.0,724.6 C716.7,724.0 718.3,723.4 720.0,722.8 C721.7,722.2 723.3,721.6 725.0,721.0 C726.7,720.4 728.3,719.8 730.0,719.2 C731.7,718.6 733.3,718.0 735.0,717.4 C736.7,716.8 738.3,716.2 740.0,715.6 C741.7,715.0 743.3,714.4 745.0,713.8 C746.7,713.2 748.3,712.6 750.0,712.0 C751.7,711.4 753.3,710.8 755.0,710.2 C756.7,709.6 758.3,709.0 760.0,708.4 C761.7,707.8 763.3,707.1 765.0,706.5 C766.7,705.9 768.3,705.3 770.0,704.7 C771.7,704.1 773.3,703.5 775.0,702.9 C776.7,702.3 778.3,701.7 780.0,701.1 C781.7,700.5 783.3,699.9 785.0,699.3 C786.7,698.6 788.3,698.0 790.0,697.4 C791.7,696.8 793.3,696.2 795.0,695.7 C796.7,695.1 798.3,694.5 800.0,693.9 C801.7,693.3 803.3,692.7 805.0,692.1 C806.7,691.5 808.3,690.9 810.0,690.3 C811.7,689.8 813.3,689.2 815.0,688.6 C816.7,688.0 818.3,687.5 820.0,686.9 C821.7,686.3 823.3,685.8 825.0,685.2 C826.7,684.6 828.3,684.1 830.0,683.5 C831.7,683.0 833.3,682.4 835.0,681.9 C836.7,681.3 838.3,680.8 840.0,680.2 C841.7,679.7 843.3,679.2 845.0,678.6 C846.7,678.1 848.3,677.6 850.0,677.1 C851.7,676.5 853.3,676.0 855.0,675.5 C856.7,675.0 858.3,674.5 860.0,674.0 C861.7,673.5 863.3,673.0 865.0,672.6 C866.7,672.1 868.3,671.6 870.0,671.1 C871.7,670.6 873.3,670.2 875.0,669.7 C876.7,669.3 878.3,668.8 880.0,668.4 C881.7,667.9 883.3,667.5 885.0,667.1 C886.7,666.6 888.3,666.2 890.0,665.8 C891.7,665.4 893.3,665.0 895.0,664.6 C896.7,664.2 898.3,663.8 900.0,663.4 C901.7,663.0 903.3,662.6 905.0,662.3 C906.7,661.9 908.3,661.5 910.0,661.2 C911.7,660.8 913.3,660.5 915.0,660.2 C916.7,659.8 918.3,659.5 920.0,659.2 C921.7,658.9 923.3,658.6 925.0,658.3 C926.7,658.0 928.3,657.7 930.0,657.4 C931.7,657.1 933.3,656.8 935.0,656.6 C936.7,656.3 938.3,656.0 940.0,655.8 C941.7,655.5 943.3,655.3 945.0,655.0 C946.7,654.8 948.3,654.5 950.0,654.3 C951.7,654.1 953.3,653.9 955.0,653.6 C956.7,653.4 958.3,653.2 960.0,653.0 C961.7,652.8 963.3,652.6 965.0,652.4 C966.7,652.2 968.3,652.0 970.0,651.8 C971.7,651.7 973.3,651.5 975.0,651.3 C976.7,651.1 978.3,651.0 980.0,650.8 C981.7,650.6 983.3,650.5 985.0,650.3 C986.7,650.1 988.3,650.0 990.0,649.8 C991.7,649.7 993.3,649.5 995.0,649.4 C996.7,649.2 998.3,649.1 1000.0,649.0 C1001.7,648.8 1003.3,648.7 1005.0,648.6 C1006.7,648.4 1008.3,648.3 1010.0,648.2 C1011.7,648.0 1013.3,647.9 1015.0,647.8 C1016.7,647.6 1018.3,647.5 1020.0,647.4 C1021.7,647.3 1023.3,647.2 1025.0,647.0 C1026.7,646.9 1028.3,646.8 1030.0,646.7 C1031.7,646.6 1033.3,646.4 1035.0,646.3 C1036.7,646.2 1038.3,646.1 1040.0,646.0 C1041.7,645.9 1043.3,645.7 1045.0,645.6 C1046.7,645.5 1048.3,645.4 1050.0,645.3 C1051.7,645.2 1053.3,645.0 1055.0,644.9 C1056.7,644.8 1058.3,644.7 1060.0,644.6 C1061.7,644.4 1063.3,644.3 1065.0,644.2 C1066.7,644.1 1068.3,643.9 1070.0,643.8 C1071.7,643.7 1073.3,643.6 1075.0,643.4 C1076.7,643.3 1078.3,643.2 1080.0,643.0 C1081.7,642.9 1083.3,642.8 1085.0,642.6 C1086.7,642.5 1088.3,642.4 1090.0,642.2 C1091.7,642.1 1093.3,641.9 1095.0,641.8 C1096.7,641.7 1098.3,641.5 1100.0,641.4 C1101.7,641.2 1103.3,641.1 1105.0,640.9 C1106.7,640.8 1108.3,640.6 1110.0,640.5 C1111.7,640.3 1113.3,640.1 1115.0,640.0 C1116.7,639.8 1118.3,639.7 1120.0,639.5 C1121.7,639.3 1123.3,639.2 1125.0,639.0 C1126.7,638.8 1128.3,638.6 1130.0,638.5 C1131.7,638.3 1133.3,638.1 1135.0,637.9 C1136.7,637.8 1138.3,637.6 1140.0,637.4 C1141.7,637.2 1143.3,637.0 1145.0,636.8 C1146.7,636.6 1148.3,636.4 1150.0,636.2 C1151.7,636.0 1153.3,635.8 1155.0,635.6 C1156.7,635.4 1158.3,635.2 1160.0,635.0 C1161.7,634.8 1163.3,634.6 1165.0,634.4 C1166.7,634.2 1168.3,634.0 1170.0,633.7 C1171.7,633.5 1173.3,633.3 1175.0,633.1 C1176.7,632.8 1178.3,632.6 1180.0,632.4 C1181.7,632.1 1183.3,631.9 1185.0,631.6 C1186.7,631.4 1188.3,631.1 1190.0,630.9 C1191.7,630.6 1193.3,630.4 1195.0,630.1 C1196.7,629.9 1198.3,629.6 1200.0,629.3 C1201.7,629.1 1203.3,628.8 1205.0,628.5 C1206.7,628.2 1208.3,628.0 1210.0,627.7 C1211.7,627.4 1213.3,627.1 1215.0,626.8 C1216.7,626.5 1218.3,626.2 1220.0,625.9 C1221.7,625.6 1223.3,625.3 1225.0,625.0 C1226.7,624.7 1228.3,624.4 1230.0,624.1 C1231.7,623.8 1233.3,623.4 1235.0,623.1 C1236.7,622.8 1238.3,622.4 1240.0,622.1 C1241.7,621.8 1243.3,621.4 1245.0,621.1 C1246.7,620.8 1248.3,620.4 1250.0,620.1 C1251.7,619.7 1253.3,619.4 1255.0,619.0 C1256.7,618.6 1258.3,618.3 1260.0,617.9 C1261.7,617.5 1263.3,617.2 1265.0,616.8 C1266.7,616.4 1268.3,616.1 1270.0,615.7 C1271.7,615.3 1273.3,614.9 1275.0,614.5 C1276.7,614.2 1278.3,613.8 1280.0,613.4 C1281.7,613.0 1283.3,612.6 1285.0,612.2 C1286.7,611.8 1288.3,611.4 1290.0,611.0 C1291.7,610.6 1293.3,610.2 1295.0,609.8 C1296.7,609.4 1298.3,609.0 1300.0,608.6 C1301.7,608.2 1303.3,607.8 1305.0,607.3 C1306.7,606.9 1308.3,606.5 1310.0,606.1 C1311.7,605.7 1313.3,605.3 1315.0,604.8 C1316.7,604.4 1318.3,604.0 1320.0,603.6 C1321.7,603.2 1323.3,602.7 1325.0,602.3 C1326.7,601.9 1328.3,601.4 1330.0,601.0 C1331.7,600.6 1333.3,600.2 1335.0,599.7 C1336.7,599.3 1338.3,598.9 1340.0,598.4 C1341.7,598.0 1343.3,597.6 1345.0,597.1 C1346.7,596.7 1348.3,596.3 1350.0,595.8 C1351.7,595.4 1353.3,595.0 1355.0,594.5 C1356.7,594.1 1358.3,593.6 1360.0,593.2 C1361.7,592.8 1363.3,592.3 1365.0,591.9 C1366.7,591.5 1368.3,591.0 1370.0,590.6 C1371.7,590.1 1373.3,589.7 1375.0,589.3 C1376.7,588.8 1378.3,588.4 1380.0,587.9 C1381.7,587.5 1383.3,587.1 1385.0,586.6 C1386.7,586.2 1388.3,585.8 1390.0,585.3 C1391.7,584.9 1393.3,584.4 1395.0,584.0 C1396.7,583.6 1398.3,583.1 1400.0,582.7 C1401.7,582.3 1403.3,581.8 1405.0,581.4 C1406.7,581.0 1408.3,580.5 1410.0,580.1 C1411.7,579.7 1413.3,579.2 1415.0,578.8 C1416.7,578.4 1418.3,577.9 1420.0,577.5 C1421.7,577.1 1423.3,576.6 1425.0,576.2 C1426.7,575.8 1428.3,575.3 1430.0,574.9 C1431.7,574.5 1433.3,574.1 1435.0,573.6 C1436.7,573.2 1438.3,572.8 1440.0,572.4 C1441.7,571.9 1443.3,571.5 1445.0,571.1 C1446.7,570.7 1448.3,570.2 1450.0,569.8 C1451.7,569.4 1453.3,569.0 1455.0,568.6 C1456.7,568.1 1458.3,567.7 1460.0,567.3 C1461.7,566.9 1463.3,566.5 1465.0,566.1 C1466.7,565.6 1468.3,565.2 1470.0,564.8 C1471.7,564.4 1473.3,564.0 1475.0,563.6 C1476.7,563.2 1478.3,562.8 1480.0,562.4 C1481.7,562.0 1483.3,561.6 1485.0,561.2 C1486.7,560.8 1488.3,560.4 1490.0,560.0 C1491.7,559.6 1493.3,559.2 1495.0,558.8 C1496.7,558.4 1498.3,558.0 1500.0,557.6 C1501.7,557.2 1503.3,556.8 1505.0,556.4 C1506.7,556.0 1508.3,555.7 1510.0,555.3 C1511.7,554.9 1513.3,554.5 1515.0,554.1 C1516.7,553.7 1518.3,553.4 1520.0,553.0 C1521.7,552.6 1523.3,552.2 1525.0,551.9 C1526.7,551.5 1528.3,551.1 1530.0,550.8 C1531.7,550.4 1533.3,550.0 1535.0,549.7 C1536.7,549.3 1538.3,548.9 1540.0,548.6 C1541.7,548.2 1543.3,547.9 1545.0,547.5 C1546.7,547.2 1548.3,546.8 1550.0,546.5 C1551.7,546.1 1553.3,545.8 1555.0,545.4 C1556.7,545.1 1558.3,544.8 1560.0,544.4 C1561.7,544.1 1563.3,543.7 1565.0,543.4 C1566.7,543.1 1568.3,542.8 1570.0,542.4 C1571.7,542.1 1573.3,541.8 1575.0,541.5 C1576.7,541.1 1578.3,540.8 1580.0,540.5 C1581.7,540.2 1583.3,539.9 1585.0,539.6 C1586.7,539.3 1588.3,539.0 1590.0,538.7 C1591.7,538.4 1593.3,538.1 1595.0,537.8 C1596.7,537.5 1598.3,537.2 1600.0,536.9 C1601.7,536.6 1603.3,536.3 1605.0,536.0 C1606.7,535.7 1608.5,535.4 1610.0,535.2 C1611.5,534.9 1613.3,534.6 1614.0,534.5" fill="none" stroke="#008000" stroke-width="4.4" stroke-linejoin="round"/>
<g stroke="#008000" stroke-width="3.3" fill="none">
<line x1="333.4" y1="878.5" x2="333.4" y2="880.5"/><line x1="333.4" y1="904.4" x2="333.4" y2="904.4"/><line x1="321.6" y1="878.5" x2="345.2" y2="878.5" stroke-width="2.8"/><line x1="321.6" y1="904.4" x2="345.2" y2="904.4" stroke-width="2.8"/>
<line x1="379.2" y1="868.8" x2="379.2" y2="874.5"/><line x1="379.2" y1="898.1" x2="379.2" y2="898.1"/><line x1="367.4" y1="868.8" x2="391.0" y2="868.8" stroke-width="2.8"/><line x1="367.4" y1="898.1" x2="391.0" y2="898.1" stroke-width="2.8"/>
<line x1="503.0" y1="751.8" x2="503.0" y2="757.5"/><line x1="503.0" y1="786.0" x2="503.0" y2="786.0"/><line x1="491.2" y1="751.8" x2="514.8" y2="751.8" stroke-width="2.8"/><line x1="491.2" y1="786.0" x2="514.8" y2="786.0" stroke-width="2.8"/>
<line x1="688.6" y1="725.5" x2="688.6" y2="736.3"/><line x1="688.6" y1="762.6" x2="688.6" y2="768.7"/><line x1="676.8" y1="725.5" x2="700.4" y2="725.5" stroke-width="2.8"/><line x1="676.8" y1="768.7" x2="700.4" y2="768.7" stroke-width="2.8"/>
<line x1="874.0" y1="629.8" x2="874.0" y2="645.5"/><line x1="874.0" y1="672.0" x2="874.0" y2="681.0"/><line x1="862.2" y1="629.8" x2="885.8" y2="629.8" stroke-width="2.8"/><line x1="862.2" y1="681.0" x2="885.8" y2="681.0" stroke-width="2.8"/>
<line x1="1059.3" y1="617.7" x2="1059.3" y2="638.0"/><line x1="1059.3" y1="662.1" x2="1059.3" y2="676.4"/><line x1="1047.5" y1="617.7" x2="1071.1" y2="617.7" stroke-width="2.8"/><line x1="1047.5" y1="676.4" x2="1071.1" y2="676.4" stroke-width="2.8"/>
<line x1="1244.3" y1="598.5" x2="1244.3" y2="619.8"/><line x1="1244.3" y1="643.2" x2="1244.3" y2="657.0"/><line x1="1232.5" y1="598.5" x2="1256.1" y2="598.5" stroke-width="2.8"/><line x1="1232.5" y1="657.0" x2="1256.1" y2="657.0" stroke-width="2.8"/>
<line x1="1429.1" y1="540.2" x2="1429.1" y2="559.8"/><line x1="1429.1" y1="585.6" x2="1429.1" y2="602.9"/><line x1="1417.3" y1="540.2" x2="1440.9" y2="540.2" stroke-width="2.8"/><line x1="1417.3" y1="602.9" x2="1440.9" y2="602.9" stroke-width="2.8"/>
<line x1="1614.5" y1="501.1" x2="1614.5" y2="522.4"/><line x1="1614.5" y1="549.8" x2="1614.5" y2="566.8"/><line x1="1602.7" y1="501.1" x2="1626.3" y2="501.1" stroke-width="2.8"/><line x1="1602.7" y1="566.8" x2="1626.3" y2="566.8" stroke-width="2.8"/>
</g>
<g fill="#008000">
<polygon points="333.4,874.0 315.9,899.2 350.9,899.2"/>
<polygon points="379.2,868.0 361.7,891.1 396.7,891.1"/>
<polygon points="503.0,751.0 485.5,776.9 520.5,776.9"/>
<polygon points="688.6,729.8 671.1,754.6 706.1,754.6"/>
<polygon points="874.0,639.0 856.5,664.0 891.5,664.0"/>
<polygon points="1059.3,631.5 1041.8,654.1 1076.8,654.1"/>
<polygon points="1244.3,613.3 1226.8,635.2 1261.8,635.2"/>
<polygon points="1429.1,553.3 1411.6,577.6 1446.6,577.6"/>
<polygon points="1614.5,515.9 1597.0,541.8 1632.0,541.8"/>
<polygon points="316.5,1076 299,1099.5 334,1099.5"/>
</g>
</g>
<rect x="350.3" y="94.35" width="638.55" height="152.7" fill="#fff" stroke="#000" stroke-width="3"/>
<rect x="358.5" y="96.7" width="114.8" height="45.9" fill="none" stroke="#ff0000" stroke-width="2.2"/>
<line x1="358" y1="119.2" x2="474" y2="119.2" stroke="#9200ff" stroke-width="4.6"/>
<rect x="401.2" y="110" width="26.8" height="19.3" fill="#9200ff"/>
<line x1="357" y1="170.7" x2="474.5" y2="170.7" stroke="#ff00ff" stroke-width="5"/>
<ellipse cx="414.6" cy="172" rx="13.4" ry="11.2" fill="#ff00ff"/>
<line x1="357" y1="222.2" x2="474.5" y2="222.2" stroke="#008000" stroke-width="5"/>
<polygon points="417.1,207.3 398,234.1 433.8,234.1" fill="#008000"/>
<g fill="#000">
<text transform="scale(1.1800,1)" x="408.92 432.49 444.77 463.79 476.06 497.36 508.51 536.58" y="134.1" font-size="40.6" xml:space="preserve">Plain RO</text>
<text transform="scale(1.1800,1)" x="408.92 437.21 467.75 482.49 508.50 539.04 550.41 561.77 592.31 618.33" y="185.9" font-size="40.6" xml:space="preserve">RO-EA  NTS</text>
<text transform="scale(1.1800,1)" x="408.92 437.07 467.46 482.06 507.93 538.32 549.55 579.94 605.82 629.47 640.69 653.05 674.42 693.52 714.89 733.98 755.36 766.58 781.18 804.83" y="236.8" font-size="40.6" xml:space="preserve">RO-EA NTS loaded ISG</text>
</g>
</svg></body></html>
